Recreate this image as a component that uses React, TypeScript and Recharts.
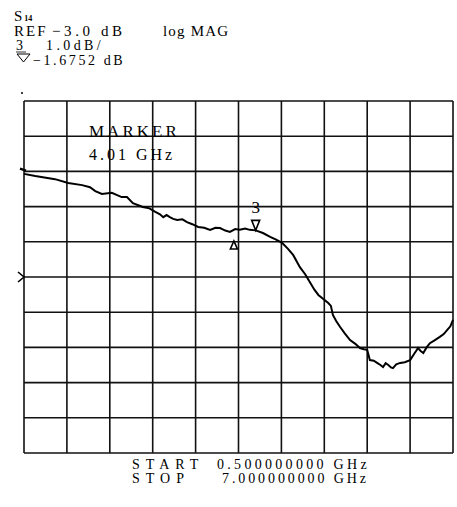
import React from 'react'
import { LineChart, Line, XAxis, YAxis, CartesianGrid, ReferenceDot } from 'recharts'

// trace S14, log MAG, 1 dB/div, REF -3.0 dB
const freqGHz = [
  0.5, 0.67, 0.97, 1.17, 1.38, 1.5, 1.58, 1.68, 1.83, 1.98, 2.06, 2.15, 2.3, 2.4, 2.49, 2.56, 2.61,
  2.66, 2.71, 2.76, 2.82, 2.9, 2.97, 3.05, 3.14, 3.23, 3.32, 3.4, 3.47, 3.55, 3.62, 3.7, 3.77, 3.85,
  3.92, 4.01, 4.12, 4.23, 4.32, 4.41, 4.5, 4.58, 4.68, 4.76, 4.83, 4.9, 4.96, 5.03, 5.11, 5.15,
  5.18, 5.23, 5.29, 5.36, 5.44, 5.52, 5.59, 5.65, 5.7, 5.74, 5.8, 5.85, 5.9, 5.94, 5.98, 6.02,
  6.06, 6.09, 6.14, 6.2, 6.27, 6.35, 6.42, 6.47, 6.51, 6.55, 6.6, 6.65, 6.72, 6.8, 6.86, 6.91,
  6.96, 7.0,
]
const magDb = [
  -0.07, -0.13, -0.22, -0.33, -0.39, -0.45, -0.56, -0.64, -0.61, -0.73, -0.73, -0.9, -1.01, -1.05,
  -1.15, -1.22, -1.3, -1.24, -1.3, -1.35, -1.38, -1.36, -1.44, -1.5, -1.58, -1.6, -1.66, -1.6,
  -1.61, -1.68, -1.72, -1.64, -1.66, -1.62, -1.66, -1.6752, -1.75, -1.86, -1.94, -2.03, -2.2,
  -2.38, -2.72, -2.92, -3.14, -3.36, -3.51, -3.62, -3.74, -3.82, -4.08, -4.25, -4.42, -4.6,
  -4.79, -4.9, -5.02, -5.05, -5.07, -5.36, -5.38, -5.44, -5.5, -5.56, -5.45, -5.5, -5.57, -5.59,
  -5.48, -5.44, -5.42, -5.36, -5.16, -5.02, -5.1, -5.16, -5.0, -4.88, -4.8, -4.7, -4.62, -4.51,
  -4.4, -4.22,
]
const freqTicks = [0.5, 1.15, 1.8, 2.45, 3.1, 3.75, 4.4, 5.05, 5.7, 6.35, 7.0]
const dbTicks = [-8, -7, -6, -5, -4, -3, -2, -1, 0, 1, 2]

const marker = { f: 4.01, db: -1.6752 }
const refMarker = { f: 3.68, db: -1.72 }

const data = freqGHz.map((f, i) => ({ f, db: magDb[i] }))

const SERIF = '"Liberation Serif", "DejaVu Serif", serif'

const MarkerShape = (props: any) => {
  const { cx, cy } = props
  return (
    <g>
      <path d={`M${cx - 4},${cy - 10} L${cx + 4},${cy - 10} L${cx},${cy} Z`} fill="#fff" stroke="#000" strokeWidth={1.6} />
      <text x={cx} y={cy - 17} textAnchor="middle" fontFamily={SERIF} fontSize={17} fill="#000">3</text>
    </g>
  )
}

const DeltaShape = (props: any) => {
  const { cx, cy } = props
  return (
    <path d={`M${cx},${cy + 9} L${cx + 3.5},${cy + 17} L${cx - 3.5},${cy + 17} Z`} fill="#fff" stroke="#000" strokeWidth={1.6} />
  )
}

const LeftArrow = (props: any) => {
  const { cx, cy } = props
  return <path d={`M${cx - 6},${cy - 5} L${cx},${cy} L${cx - 6},${cy + 5}`} fill="none" stroke="#000" strokeWidth={1.6} />
}

const LeftTick = (props: any) => {
  const { cx, cy } = props
  return <path d={`M${cx - 4},${cy - 1} L${cx + 2},${cy + 1}`} fill="none" stroke="#000" strokeWidth={2.5} />
}

export default function App() {
  return (
    <div style={{ position: 'absolute', left: 0, top: 0, width: 457, height: 507, background: '#fff' }}>
      <LineChart width={457} height={507} data={data} margin={{ top: 101, right: 4, bottom: 54, left: 24 }}>
        <CartesianGrid stroke="#111" strokeWidth={1.6} />
        <XAxis dataKey="f" type="number" domain={[0.5, 7]} ticks={freqTicks} hide />
        <YAxis type="number" domain={[-8, 2]} ticks={dbTicks} hide />
        <Line dataKey="db" stroke="#000" strokeWidth={2} dot={false} isAnimationActive={false} type="linear" />
        <ReferenceDot x={marker.f} y={marker.db} r={0} shape={MarkerShape} ifOverflow="visible" />
        <ReferenceDot x={refMarker.f} y={refMarker.db} r={0} shape={DeltaShape} ifOverflow="visible" />
        <ReferenceDot x={0.5} y={-3} r={0} shape={LeftArrow} ifOverflow="visible" />
        <ReferenceDot x={0.5} y={0.05} r={0} shape={LeftTick} ifOverflow="visible" />
      </LineChart>
      <svg width={457} height={507} style={{ position: 'absolute', left: 0, top: 0, pointerEvents: 'none' }}>
        <g fontFamily={SERIF} fill="#000">
          <text x={14} y={21} fontSize={15}>S<tspan fontSize={8} dx={2} fontWeight="bold">14</tspan></text>
          <text x={14} y={36} fontSize={15} letterSpacing={2}>REF</text>
          <text x={52} y={36} fontSize={15} letterSpacing={3.6}>−3.0 dB</text>
          <text x={163} y={36} fontSize={15} letterSpacing={1.2}>log MAG</text>
          <text x={16} y={50} fontSize={14}>3</text>
          <line x1={16} y1={52} x2={26} y2={52} stroke="#000" strokeWidth={0.8} />
          <text x={46} y={50} fontSize={14} letterSpacing={3.4}>1.0dB/</text>
          <path d="M17,54 L30,54 L23.5,62 Z" fill="none" stroke="#000" strokeWidth={1} />
          <text x={33} y={65} fontSize={14} letterSpacing={2.6}>−1.6752 dB</text>
          <circle cx={22} cy={93} r={1} />
          <text x={89} y={137} fontSize={17} letterSpacing={3}>MARKER</text>
          <text x={89} y={160} fontSize={16} letterSpacing={3}>4.01 GHz</text>
          <text x={132} y={469} fontSize={14} letterSpacing={6}>START</text>
          <text x={217} y={469} fontSize={14} letterSpacing={3.3}>0.500000000 GHz</text>
          <text x={132} y={483} fontSize={14} letterSpacing={6}>STOP</text>
          <text x={222} y={483} fontSize={14} letterSpacing={2.9}>7.000000000 GHz</text>
        </g>
      </svg>
    </div>
  )
}
